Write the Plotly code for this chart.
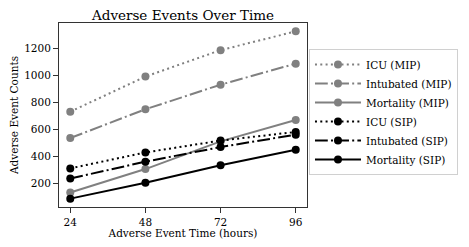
import plotly.graph_objects as go

hours = [24, 48, 72, 96]
icu_mip = [732, 992, 1188, 1327]
intubated_mip = [537, 750, 932, 1088]
mortality_mip = [133, 307, 512, 670]
icu_sip = [312, 430, 518, 582]
intubated_sip = [237, 362, 470, 562]
mortality_sip = [88, 205, 335, 450]

series = [
    ("ICU (MIP)", icu_mip, "gray", "2px,3.3px"),
    ("Intubated (MIP)", intubated_mip, "gray", "12.8px,3.2px,2px,3.2px"),
    ("Mortality (MIP)", mortality_mip, "gray", "solid"),
    ("ICU (SIP)", icu_sip, "black", "2px,3.3px"),
    ("Intubated (SIP)", intubated_sip, "black", "12.8px,3.2px,2px,3.2px"),
    ("Mortality (SIP)", mortality_sip, "black", "solid"),
]

font = "DejaVu Serif"
fig = go.Figure()
for name, vals, color, dash in series:
    fig.add_trace(go.Scatter(
        x=hours, y=vals, name=name, mode="lines+markers",
        line=dict(color=color, width=2, dash=dash),
        marker=dict(color=color, size=8),
    ))

allv = icu_mip + intubated_mip + mortality_mip + icu_sip + intubated_sip + mortality_sip
lo, hi = min(allv), max(allv)
pad = (hi - lo) * 0.05
xpad = (max(hours) - min(hours)) * 0.05

axis_common = dict(
    showline=True, linecolor="#333", linewidth=1, mirror=True,
    ticks="outside", ticklen=5, tickwidth=1, tickcolor="#333",
    showgrid=False, zeroline=False, automargin=False,
    tickfont=dict(family=font, size=10.5, color="black"),
)

# page body has an 8px default margin, so the figure is sized/offset to compensate
fig.update_layout(
    width=453, height=231,
    margin=dict(l=51, r=154, t=15, b=32, autoexpand=False),
    paper_bgcolor="white", plot_bgcolor="white",
    font=dict(family=font, color="black"),
    title=dict(text="Adverse Events Over Time", x=0.5, xref="paper", xanchor="center",
               y=1, yref="paper", yanchor="bottom", pad=dict(b=3),
               font=dict(family=font, size=13.5, color="black")),
    xaxis=dict(**axis_common, tickvals=hours, ticktext=[str(h) for h in hours],
               range=[min(hours) - xpad, max(hours) + xpad],
               title=dict(text="Adverse Event Time (hours)", standoff=0,
                          font=dict(family=font, size=10.5))),
    yaxis=dict(**axis_common, tickvals=[200, 400, 600, 800, 1000, 1200],
               range=[lo - pad, hi + pad],
               title=dict(text="Adverse Event Counts", standoff=4,
                          font=dict(family=font, size=10.5))),
    legend=dict(x=1.008, xanchor="left", y=0.516, yanchor="middle",
                bgcolor="white", bordercolor="#d0d0d0", borderwidth=1,
                font=dict(family=font, size=10.5, color="black"),
                tracegroupgap=0, itemwidth=46),
    showlegend=True,
)

fig.write_html("out.html")
